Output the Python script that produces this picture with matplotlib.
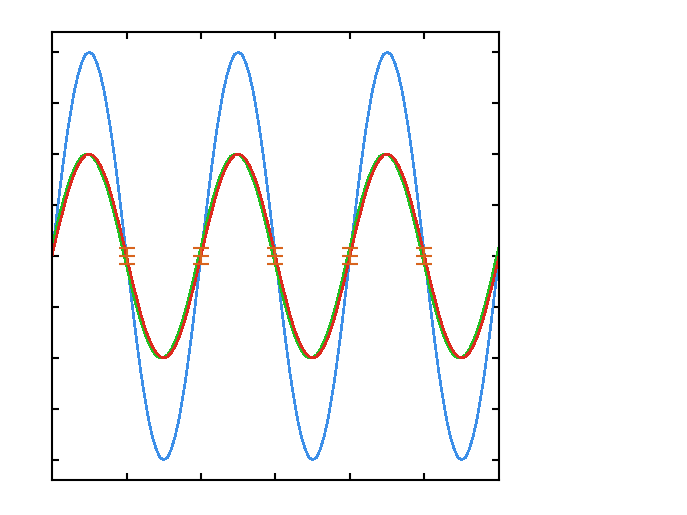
import numpy as np
import matplotlib
matplotlib.use('Agg')
import matplotlib.pyplot as plt

# 采样点 (0 ~ 6, 步长 0.05)
x = np.arange(121) / 20.0

red_pos = [0, .16, .31, .45, .59, .71, .81, .89, .95, .99,
           1, .99, .95, .89, .81, .71, .59, .45, .31, .16]
red_vals = (red_pos + [-v for v in red_pos]) * 3 + [0]

green_pos = [.09, .25, .40, .54, .66, .77, .86, .93, .98, 1.0,
             1.0, .97, .92, .84, .75, .64, .51, .37, .22, .06]
green_vals = (green_pos + [-v for v in green_pos]) * 3 + [.09]

blue_pos = [0, .31, .62, .91, 1.18, 1.41, 1.62, 1.78, 1.90, 1.98,
            2, 1.98, 1.90, 1.78, 1.62, 1.41, 1.18, .91, .62, .31]
blue_vals = (blue_pos + [-v for v in blue_pos]) * 3 + [0]

# 误差棒
err_x = [1, 2, 3, 4, 5]
err_y = [0, 0, 0, 0, 0]
err_yerr = [0.08, 0.08, 0.08, 0.08, 0.08]

x_ticks = [1, 2, 3, 4, 5]
y_ticks = [-2, -1.5, -1, -0.5, 0, 0.5, 1, 1.5, 2]

fig = plt.figure(figsize=(6.87, 5.15), dpi=100)
ax = fig.add_axes([52 / 687, 1 - 480 / 515, 447 / 687, 448 / 515])

ax.plot(x, blue_vals, color='#3d8fe8', lw=1.2, antialiased=False)
ax.plot(x, green_vals, color='#22c022', lw=1.2, antialiased=False)
ax.plot(x, red_vals, color='#dd2a1e', lw=1.2, antialiased=False)
ax.errorbar(err_x, err_y, yerr=err_yerr, fmt='_', ms=12, mew=1.5,
            color='#d8641e', ecolor='#d8641e',
            elinewidth=1.5, capsize=6, capthick=1.5)

ax.set_xlim(0, 6)
ax.set_ylim(-2.2, 2.2)
ax.set_xticks(x_ticks)
ax.set_yticks(y_ticks)
ax.tick_params(which='both', direction='in', length=5, width=1.5,
               top=True, right=True, labelbottom=False, labelleft=False)
for sp in ax.spines.values():
    sp.set_linewidth(1.5)
    sp.set_color('black')

fig.savefig('out.png', dpi=100)
